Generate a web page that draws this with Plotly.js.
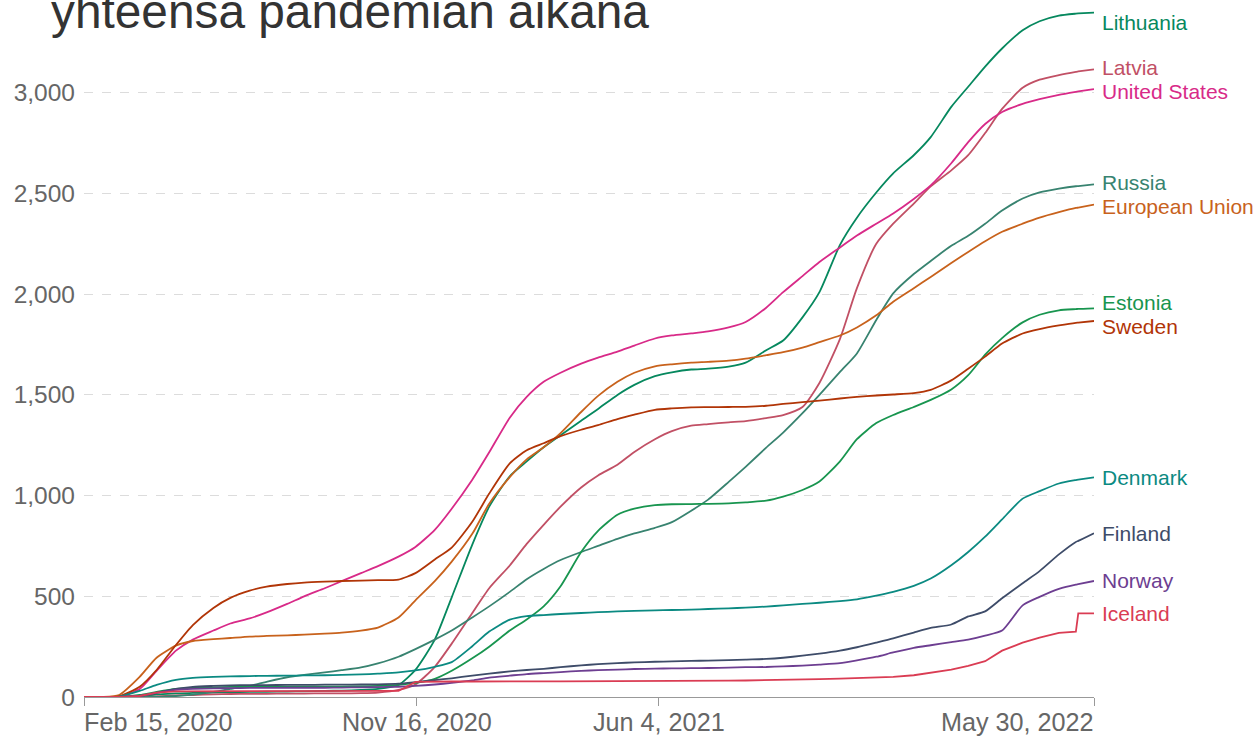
<!DOCTYPE html>
<html>
<head>
<meta charset="utf-8">
<script src="https://cdn.plot.ly/plotly-3.0.1.min.js"></script>
<style>html,body{margin:0;padding:0;background:#fff;}#chart{width:1257px;height:736px;}</style>
</head>
<body>
<div id="chart"></div>
<script>
const titleText = "yhteensä pandemian aikana";

const dates = ["2020-02-15","2020-03-01","2020-03-15","2020-04-01","2020-04-15","2020-05-01","2020-05-15","2020-06-01","2020-06-15","2020-07-01","2020-07-15","2020-08-01","2020-08-15","2020-09-01","2020-09-15","2020-10-01","2020-10-15","2020-11-01","2020-11-15","2020-12-01","2020-12-15","2021-01-01","2021-01-15","2021-02-01","2021-02-15","2021-03-01","2021-03-15","2021-04-01","2021-04-15","2021-05-01","2021-05-15","2021-06-01","2021-06-15","2021-07-01","2021-07-15","2021-08-01","2021-08-15","2021-09-01","2021-09-15","2021-10-01","2021-10-15","2021-11-01","2021-11-15","2021-12-01","2021-12-15","2022-01-01","2022-01-15","2022-02-01","2022-02-15","2022-03-01","2022-03-15","2022-04-01","2022-04-15","2022-05-01","2022-05-15","2022-05-17","2022-05-30"];

const lithuania = [0,0,0,5,12,18,20,22,23,25,26,27,28,30,32,35,40,60,135,285,495,757,945,1096,1170,1240,1300,1372,1430,1500,1550,1593,1612,1626,1630,1640,1660,1722,1770,1885,2010,2245,2380,2505,2600,2690,2780,2930,3030,3130,3220,3310,3355,3383,3393,3394,3398];
const latvia = [0,0,0,1,3,8,10,13,15,16,16,17,17,18,18,19,22,35,62,150,265,417,540,653,760,855,945,1040,1100,1153,1217,1280,1320,1347,1355,1364,1370,1385,1400,1440,1559,1778,2030,2250,2350,2450,2535,2615,2690,2800,2920,3025,3065,3088,3104,3106,3116];
const unitedStates = [0,0,3,40,130,230,285,330,365,390,420,462,500,540,575,615,650,697,745,830,935,1079,1215,1387,1490,1565,1610,1655,1685,1715,1745,1780,1795,1805,1815,1835,1862,1933,2010,2090,2160,2232,2291,2350,2401,2473,2540,2650,2755,2845,2905,2945,2968,2990,3005,3007,3018];
const russia = [0,0,0,0,1,5,12,25,40,55,75,98,110,122,133,147,167,200,238,285,330,395,450,522,585,636,680,720,750,785,812,840,868,925,980,1068,1143,1238,1313,1409,1500,1614,1706,1872,2004,2100,2165,2240,2290,2350,2415,2475,2505,2524,2536,2537,2545];
const europeanUnion = [0,0,10,100,195,255,278,287,293,300,303,306,310,315,320,330,345,395,480,575,672,810,960,1092,1180,1240,1310,1415,1495,1565,1610,1642,1652,1660,1664,1670,1680,1697,1712,1735,1762,1795,1835,1895,1963,2030,2085,2155,2210,2263,2310,2350,2380,2407,2428,2430,2445];
const estonia = [0,0,0,10,25,40,45,48,50,50,50,51,51,52,52,53,55,60,70,90,130,192,250,330,385,450,550,720,825,905,935,953,957,958,959,961,966,975,995,1028,1070,1170,1280,1360,1400,1440,1475,1527,1598,1700,1782,1860,1898,1920,1926,1927,1930];
const sweden = [0,0,3,51,134,258,357,442,492,528,548,561,568,573,576,578,580,583,615,683,742,870,1010,1160,1225,1260,1295,1327,1350,1380,1402,1426,1433,1438,1439,1440,1441,1446,1455,1464,1472,1482,1490,1497,1502,1509,1525,1572,1630,1690,1755,1805,1827,1845,1858,1859,1867];
const denmark = [0,0,2,30,60,85,95,100,102,104,105,106,107,108,110,112,116,122,132,150,173,252,325,384,402,407,412,417,421,425,428,430,432,434,437,440,444,449,455,462,468,476,485,503,522,552,588,654,720,796,882,985,1022,1060,1077,1079,1091];
const finland = [0,0,0,5,20,40,50,55,58,59,59,60,60,61,61,62,63,66,74,84,93,106,116,127,134,140,148,157,163,168,172,175,177,179,181,183,186,189,195,205,215,230,247,270,291,320,343,360,400,425,490,565,625,708,770,775,813];
const norway = [0,0,0,5,20,35,40,43,44,45,45,46,46,46,47,48,49,51,55,62,70,82,96,106,114,119,124,130,133,136,139,141,142,143,144,146,148,149,152,156,161,168,182,200,221,244,257,272,285,305,330,455,497,537,558,560,576];
const iceland = [0,0,0,5,22,28,28,28,28,28,28,28,28,28,28,28,29,30,75,77,77,77,78,78,78,78,78,78,78,78,78,78,78,79,80,81,82,83,85,87,89,91,94,97,100,108,120,136,155,178,230,270,295,318,324,415,415];

const seriesNames = ["Lithuania","Latvia","United States","Russia","European Union","Estonia","Sweden","Denmark","Finland","Norway","Iceland"];
const seriesValues = [lithuania, latvia, unitedStates, russia, europeanUnion, estonia, sweden, denmark, finland, norway, iceland];
const seriesColors = ["#06885E","#C15065","#D82A88","#388370","#C8621C","#18954F","#B13507","#0B8A82","#3E4C69","#6D3E91","#DA3C53"];

const xTickVals = ["2020-02-15","2020-11-16","2021-06-04","2022-05-30"];
const xTickText = ["Feb 15, 2020","Nov 16, 2020","Jun 4, 2021","May 30, 2022"];
const yTickVals = [0,500,1000,1500,2000,2500,3000];
const yTickText = ["0","500","1,000","1,500","2,000","2,500","3,000"];

const FONT = "Liberation Sans, Arial, Helvetica, sans-serif";

const traces = seriesNames.map((name, i) => ({
  type: "scatter", mode: "lines", name: name,
  x: dates, y: seriesValues[i],
  line: name === "Iceland"
    ? {color: seriesColors[i], width: 1.8, shape: "linear"}
    : {color: seriesColors[i], width: 1.8, shape: "spline", smoothing: 0.6},
  hoverinfo: "skip"
}));

// label placement: end value, clamped and spread apart
const yMax = 3421;
const minGap = 120;
let labels = seriesNames.map((n, i) => ({name: n, color: seriesColors[i], v: seriesValues[i][seriesValues[i].length - 1]}));
labels.forEach(l => { l.y = Math.min(l.v, 3351); });
labels.sort((a, b) => b.y - a.y);
for (let iter = 0; iter < 20; iter++) {
  for (let k = 0; k < labels.length - 1; k++) {
    const d = labels[k].y - labels[k + 1].y;
    if (d < minGap) {
      const push = (minGap - d) / 2;
      labels[k].y += push; labels[k + 1].y -= push;
    }
  }
  labels.forEach(l => { if (l.y > 3351) l.y = 3351; });
}

const annotations = [];
labels.forEach(l => annotations.push({
  xref: "paper", yref: "y", x: 1.0059, y: l.y, xanchor: "left", yanchor: "middle",
  text: l.name, showarrow: false, font: {family: FONT, size: 21, color: l.color}
}));
const anchors = ["left", "center", "center", "right"];
xTickVals.forEach((v, i) => annotations.push({
  xref: "x", yref: "paper", x: v, y: -0.037, xanchor: anchors[i], yanchor: "middle",
  xshift: i === 0 ? -2 : (i === 3 ? 2 : 0),
  text: xTickText[i], showarrow: false, font: {family: FONT, size: 25.2, color: "#666666"}
}));
annotations.push({
  xref: "paper", yref: "paper", x: -0.0347, y: 0.953, xanchor: "left", yanchor: "bottom",
  text: titleText, showarrow: false, font: {family: FONT, size: 47.8, color: "#333333"}
});

const layout = {
  width: 1257, height: 736,
  margin: {l: 84, r: 163, t: 8, b: 39, pad: 0},
  paper_bgcolor: "#ffffff", plot_bgcolor: "#ffffff",
  showlegend: false, hovermode: false,
  font: {family: FONT, size: 24.5, color: "#666666"},
  xaxis: {
    type: "date", range: ["2020-02-15", "2022-05-30"],
    tickvals: xTickVals, ticktext: xTickText, showticklabels: false,
    ticks: "outside", ticklen: 8, tickcolor: "#999999", tickwidth: 1,
    showline: true, linecolor: "#999999", linewidth: 1,
    showgrid: false, zeroline: false, fixedrange: true
  },
  yaxis: {
    range: [0, yMax], tickvals: yTickVals, ticktext: yTickText,
    ticks: "", ticklabelstandoff: 8,
    tickfont: {family: FONT, size: 24.5, color: "#666666"},
    showgrid: true, gridcolor: "#dcdcdc", griddash: "dash", gridwidth: 1,
    zeroline: false, showline: false, fixedrange: true
  },
  annotations: annotations
};

Plotly.newPlot("chart", traces, layout, {displayModeBar: false, staticPlot: true});
</script>
</body>
</html>
